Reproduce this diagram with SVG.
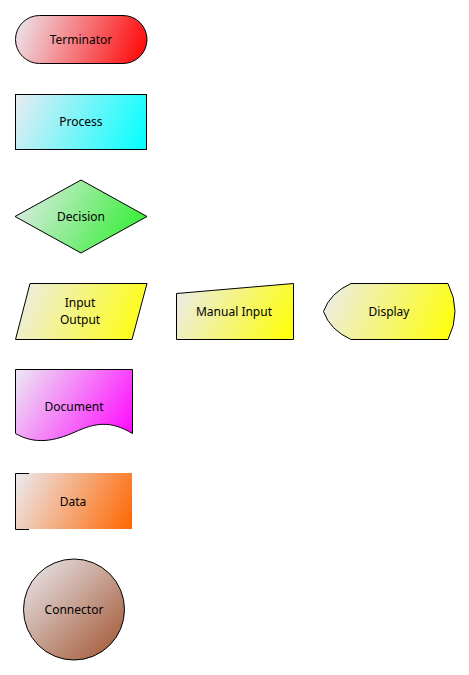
<svg xmlns="http://www.w3.org/2000/svg" width="469" height="675" viewBox="0 0 469 675">
<style>
.s{stroke:#000;stroke-width:1}
.t{font-family:"Noto Sans","Open Sans",sans-serif;font-size:12px;fill:#000;text-anchor:middle}
.a{stop-color:#ebebf2}
</style>
<defs>
<linearGradient id="gR" gradientUnits="userSpaceOnUse" x1="15" y1="15" x2="147" y2="63"><stop offset="0" class="a"/><stop offset="1" stop-color="#ff0000"/></linearGradient>
<linearGradient id="gC" gradientUnits="userSpaceOnUse" x1="15" y1="94" x2="147" y2="149"><stop offset="0" class="a"/><stop offset="1" stop-color="#00ffff"/></linearGradient>
<linearGradient id="gG" gradientUnits="userSpaceOnUse" x1="15" y1="180" x2="147" y2="253"><stop offset="0" class="a"/><stop offset="1" stop-color="#22ee22"/></linearGradient>
<linearGradient id="gY1" gradientUnits="userSpaceOnUse" x1="15" y1="283" x2="147" y2="340"><stop offset="0" class="a"/><stop offset="1" stop-color="#ffff00"/></linearGradient>
<linearGradient id="gY2" gradientUnits="userSpaceOnUse" x1="176" y1="283" x2="294" y2="340"><stop offset="0" class="a"/><stop offset="1" stop-color="#ffff00"/></linearGradient>
<linearGradient id="gY3" gradientUnits="userSpaceOnUse" x1="323" y1="283" x2="455" y2="340"><stop offset="0" class="a"/><stop offset="1" stop-color="#ffff00"/></linearGradient>
<linearGradient id="gM" gradientUnits="userSpaceOnUse" x1="15" y1="369" x2="133" y2="443"><stop offset="0" class="a"/><stop offset="1" stop-color="#ff00ff"/></linearGradient>
<linearGradient id="gO" gradientUnits="userSpaceOnUse" x1="15" y1="473" x2="132" y2="529"><stop offset="0" class="a"/><stop offset="1" stop-color="#ff6600"/></linearGradient>
<linearGradient id="gB" gradientUnits="userSpaceOnUse" x1="24" y1="559" x2="124" y2="660"><stop offset="0" class="a"/><stop offset="1" stop-color="#a0522d"/></linearGradient>
</defs>
<g id="connectors"></g>
<g id="terminator">
<rect x="15.5" y="15.5" width="131.5" height="48" rx="24" fill="url(#gR)" class="s"/>
<text class="t" x="81" y="44">Terminator</text>
</g>
<g id="process">
<rect x="15.5" y="94.5" width="131" height="55" fill="url(#gC)" class="s"/>
<text class="t" x="81" y="126">Process</text>
</g>
<g id="decision">
<polygon points="81,180 147,216.5 81,253 15,216.5" fill="url(#gG)" class="s"/>
<text class="t" x="81" y="221">Decision</text>
</g>
<g id="inputoutput">
<polygon points="30,283.5 147,283.5 132,339.5 15.5,339.5" fill="url(#gY1)" class="s"/>
<text class="t" x="80" y="307">Input</text>
<text class="t" x="80" y="324">Output</text>
</g>
<g id="manualinput">
<polygon points="176.5,293.5 293.5,283.5 293.5,339.5 176.5,339.5" fill="url(#gY2)" class="s"/>
<text class="t" x="234" y="316">Manual Input</text>
</g>
<g id="display">
<path d="M351,283.5 H448 Q462,311.5 448,339.5 H351 Q330,330 323.5,311.5 Q330,293 351,283.5 Z" fill="url(#gY3)" class="s"/>
<text class="t" x="389" y="316">Display</text>
</g>
<g id="document">
<path d="M15.5,369.5 H132.5 V433.5 C110,420 95,423 75,432 C55,441 35,445 15.5,433.5 Z" fill="url(#gM)" class="s"/>
<text class="t" x="74" y="411">Document</text>
</g>
<g id="data">
<rect x="15" y="473" width="117" height="56" fill="url(#gO)"/>
<path d="M29,473.5 H15.5 V529.5 H29" fill="none" class="s"/>
<text class="t" x="73" y="506">Data</text>
</g>
<g id="connector">
<circle cx="74" cy="609.5" r="50.5" fill="url(#gB)" class="s"/>
<text class="t" x="74" y="614">Connector</text>
</g>
</svg>
